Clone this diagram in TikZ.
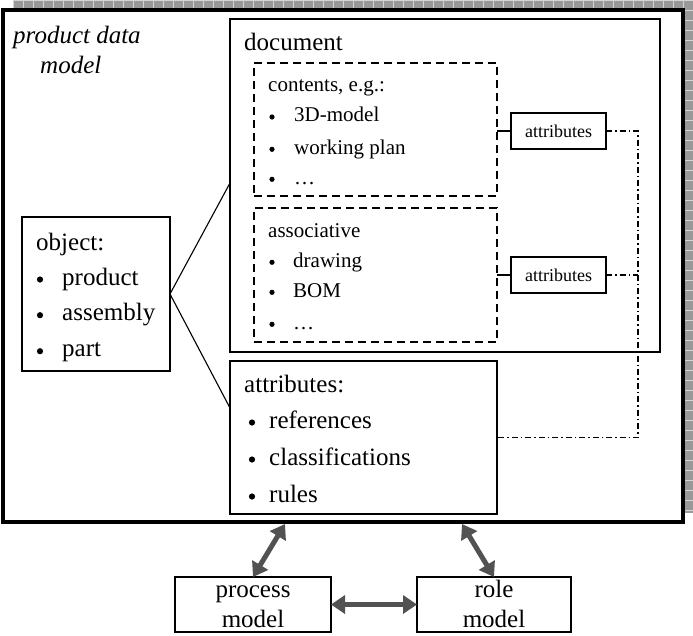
\documentclass[tikz,border=0pt]{standalone}
\usepackage{fontspec}
\setmainfont{Liberation Serif}
\usetikzlibrary{arrows.meta}
\begin{document}
\begin{tikzpicture}[x=1pt,y=-1pt,
  box/.style={draw=black, line width=1.2pt, fill=white, inner sep=0pt, outer sep=0pt},
  dbox/.style={draw=black, line width=1.3pt, dash pattern=on 8pt off 5pt, inner sep=0pt, outer sep=0pt},
  big/.style={inner sep=0pt, anchor=base west, font=\fontsize{25}{30}\selectfont},
  mid/.style={inner sep=0pt, anchor=base west, font=\fontsize{21}{25}\selectfont},
  bul/.style={circle, fill=black, inner sep=0pt, minimum size=6.2pt},
  sbul/.style={circle, fill=black, inner sep=0pt, minimum size=5.2pt},
  ctr/.style={inner sep=0pt, anchor=base, font=\fontsize{25}{30}\selectfont},
  small/.style={font=\fontsize{18}{21}\selectfont},
  conn/.style={draw=black, line width=1.1pt},
  dashdot/.style={draw=black, line width=1.1pt, dash pattern=on 6pt off 3pt on 1.5pt off 3pt},
  dbl/.style={draw=black!68, line width=5pt, {Triangle[length=14pt,width=18pt]}-{Triangle[length=14pt,width=18pt]}}]
\useasboundingbox (0,0) rectangle (693,635);
% grid shadow
\fill[black!40] (13,0) rectangle (693,513);
\foreach \i in {0,...,68} \draw[black!17, line width=0.9pt] (13+10*\i,0) -- (13+10*\i,513);
\foreach \j in {0,...,51} \draw[black!17, line width=0.9pt] (13,10*\j) -- (693,10*\j);
% main box
\node[draw=black, line width=3.5pt, fill=white, inner sep=0pt, minimum width=680, minimum height=512] (main) at (343,266) {};
\node[big, font=\fontsize{25}{30}\selectfont\itshape] (pd1) at (13,43) {product data};
\node[big, font=\fontsize{25}{30}\selectfont\itshape] (pd2) at (40,73) {model};
% document
\node[box, minimum width=430, minimum height=333] (doc) at (445,185.5) {};
\node[big] (tdoc) at (244,50) {document};
\node[dbox, minimum width=243, minimum height=133] (d1) at (375.5,129.5) {};
\node[mid] (c0) at (268,91.7) {contents, e.g.:};
\node[sbul] (cb1) at (272,117) {};
\node[mid] (c1) at (294,121.7) {3D-model};
\node[sbul] (cb2) at (272,149.3) {};
\node[mid] (c2) at (294,154) {working plan};
\node[sbul] (cb3) at (272,179.3) {};
\node[mid] (c3) at (294,184) {…};
\node[dbox, minimum width=243, minimum height=134] (d2) at (375.5,275) {};
\node[mid] (a0) at (268,237) {associative};
\node[sbul] (ab1) at (272,262.3) {};
\node[mid] (a1) at (293,267) {drawing};
\node[sbul] (ab2) at (272,292.3) {};
\node[mid] (a2) at (293,297) {BOM};
\node[sbul] (ab3) at (272,324.3) {};
\node[mid] (a3) at (293,329) {…};
% small attribute boxes
\node[box, small, minimum width=95, minimum height=36] (at1) at (558.5,131) {attributes};
\node[box, small, minimum width=95, minimum height=36] (at2) at (558.5,275) {attributes};
\draw[conn] (d1.east |- at1.west) -- (at1.west);
\draw[conn] (d2.east |- at2.west) -- (at2.west);
% attributes box
\node[box, minimum width=267, minimum height=153] (attr) at (363.5,437.5) {};
\node[big] (r0) at (244,392) {attributes:};
\node[bul] (rb1) at (252,422.5) {};
\node[big] (r1) at (269,428) {references};
\node[bul] (rb2) at (252,459.5) {};
\node[big] (r2) at (269,465) {classifications};
\node[bul] (rb3) at (252,496.5) {};
\node[big] (r3) at (269,502) {rules};
% object box
\node[box, minimum width=148, minimum height=154] (obj) at (96,294) {};
\node[big] (o0) at (36,250) {object:};
\node[bul] (ob1) at (40,279.5) {};
\node[big] (o1) at (62,285) {product};
\node[bul] (ob2) at (40,315.2) {};
\node[big] (o2) at (62,320.7) {assembly};
\node[bul] (ob3) at (40,351.2) {};
\node[big] (o3) at (62,356.7) {part};
\coordinate (dl) at (230,183);
\coordinate (al) at (230,408);
\draw[conn] (dl) -- (obj.east) -- (al);
% dash-dot links
\coordinate (k1) at (638,131);
\coordinate (k2) at (638,437.5);
\coordinate (k3) at (638,275);
\draw[dashdot] (at1.east) -- (k1) -- (k2) -- (attr.east);
\draw[dashdot] (at2.east) -- (k3);
% process / role
\node[box, minimum width=156, minimum height=55] (proc) at (253,604.5) {};
\node[ctr] (p1) at (253,597) {process};
\node[ctr] (p2) at (253,627) {model};
\node[box, minimum width=154, minimum height=55] (role) at (494,604.5) {};
\node[ctr] (q1) at (494,597) {role};
\node[ctr] (q2) at (494,627) {model};
\coordinate (m1) at (285,524);
\coordinate (m2) at (462,524);
\path[dbl] (m1) -- (proc.north);
\path[dbl] (m2) -- (role.north);
\path[dbl] (proc.east) -- (role.west);
\end{tikzpicture}
\end{document}
